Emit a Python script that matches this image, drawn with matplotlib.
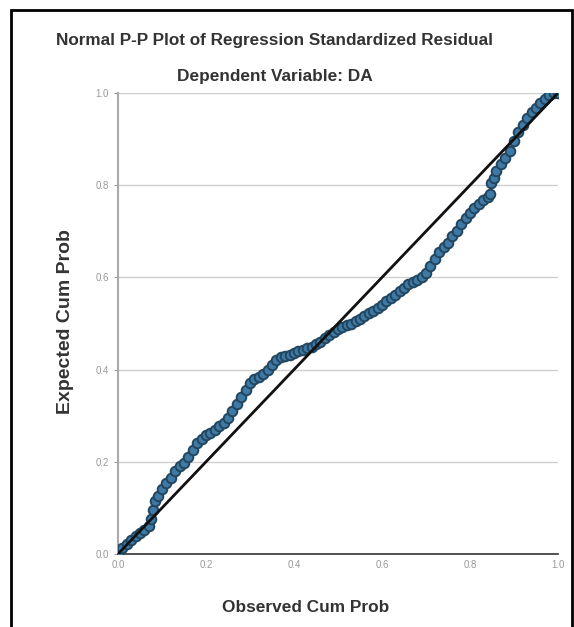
import matplotlib
matplotlib.use("Agg")
import matplotlib.pyplot as plt
from matplotlib.patches import Rectangle

plt.rcParams['font.family'] = ['Liberation Sans', 'DejaVu Sans']

# observed cumulative probability (x) and expected cumulative probability (y)
observed = [0.00, 0.01, 0.02, 0.03, 0.04, 0.05, 0.06, 0.07, 0.075, 0.08,
            0.085, 0.09, 0.10, 0.11, 0.12, 0.13, 0.14, 0.15, 0.16, 0.17,
            0.18, 0.19, 0.20, 0.21, 0.22, 0.23, 0.24, 0.25, 0.26, 0.27,
            0.28, 0.29, 0.30, 0.31, 0.32, 0.33, 0.34, 0.35, 0.36, 0.37,
            0.38, 0.39, 0.40, 0.41, 0.42, 0.43, 0.44, 0.45, 0.46, 0.47,
            0.48, 0.49, 0.50, 0.51, 0.52, 0.53, 0.54, 0.55, 0.56, 0.57,
            0.58, 0.59, 0.60, 0.61, 0.62, 0.63, 0.64, 0.65, 0.66, 0.67,
            0.68, 0.69, 0.70, 0.71, 0.72, 0.73, 0.74, 0.75, 0.76, 0.77,
            0.78, 0.79, 0.80, 0.81, 0.82, 0.83, 0.84, 0.845,
            0.848, 0.855, 0.86, 0.87, 0.88, 0.89, 0.90, 0.91, 0.92, 0.93,
            0.94, 0.95, 0.96, 0.97, 0.98, 0.99, 1.00]
expected = [0.00, 0.012, 0.022, 0.030, 0.038, 0.045, 0.052, 0.060, 0.075, 0.095,
            0.115, 0.125, 0.140, 0.155, 0.165, 0.180, 0.190, 0.198, 0.210, 0.225,
            0.240, 0.250, 0.258, 0.262, 0.270, 0.277, 0.285, 0.295, 0.310, 0.325,
            0.340, 0.355, 0.370, 0.380, 0.385, 0.390, 0.400, 0.410, 0.420, 0.427,
            0.430, 0.432, 0.435, 0.440, 0.443, 0.447, 0.450, 0.455, 0.460, 0.468,
            0.475, 0.482, 0.488, 0.492, 0.497, 0.500, 0.505, 0.510, 0.517, 0.522,
            0.527, 0.533, 0.540, 0.548, 0.555, 0.562, 0.570, 0.578, 0.585, 0.590,
            0.595, 0.600, 0.610, 0.625, 0.640, 0.655, 0.665, 0.675, 0.690, 0.700,
            0.715, 0.728, 0.740, 0.750, 0.760, 0.768, 0.775, 0.780,
            0.805, 0.815, 0.830, 0.845, 0.860, 0.875, 0.895, 0.915, 0.930, 0.945,
            0.958, 0.968, 0.978, 0.987, 0.995, 1.000, 1.000]

ticks = [0.0, 0.2, 0.4, 0.6, 0.8, 1.0]
tick_labels = ["0.0", "0.2", "0.4", "0.6", "0.8", "1.0"]

fig = plt.figure(figsize=(5.74, 6.27), dpi=100)
ax = fig.add_axes([118 / 574, 73 / 627, 440 / 574, 461 / 627])

ax.scatter(observed, expected, s=48, facecolor="#3f7aa6", edgecolor="#23465f",
           linewidth=1.4, zorder=3)
ax.plot([0, 1], [0, 1], color="#111111", linewidth=2, zorder=4)

ax.set_xlim(0, 1)
ax.set_ylim(0, 1)
ax.set_xticks(ticks)
ax.set_xticklabels(tick_labels)
ax.set_yticks(ticks)
ax.set_yticklabels(tick_labels)
ax.tick_params(axis="both", labelsize=7, colors="#999999", length=3, width=0.8)
ax.tick_params(axis="x", length=0, pad=4)
ax.yaxis.grid(True, color="#cfcfcf", linewidth=1)
ax.set_axisbelow(True)
ax.spines["top"].set_visible(False)
ax.spines["right"].set_visible(False)
ax.spines["left"].set_color("#aaaaaa")
ax.spines["left"].set_linewidth(1.5)
ax.spines["bottom"].set_color("#333333")
ax.spines["bottom"].set_linewidth(1.2)

fig.text(274 / 574, 1 - 41 / 627, "Normal P-P Plot of Regression Standardized Residual",
         ha="center", va="center", fontsize=12.3, fontweight="bold", color="#333333")
fig.text(275 / 574, 1 - 76 / 627, "Dependent Variable: DA",
         ha="center", va="center", fontsize=12.4, fontweight="bold", color="#333333")
fig.text(306 / 574, 1 - 607 / 627, "Observed Cum Prob",
         ha="center", va="center", fontsize=12.4, fontweight="bold", color="#333333")
fig.text(65 / 574, 1 - 322 / 627, "Expected Cum Prob", rotation=90,
         ha="center", va="center", fontsize=14, fontweight="bold", color="#333333")

# outer frame (bottom edge runs off the image)
fig.patches.append(Rectangle((11 / 574, -0.05), 561 / 574, 1.05 - 10 / 627,
                             transform=fig.transFigure, fill=False,
                             edgecolor="black", linewidth=2))

fig.savefig("out.png", dpi=100)
